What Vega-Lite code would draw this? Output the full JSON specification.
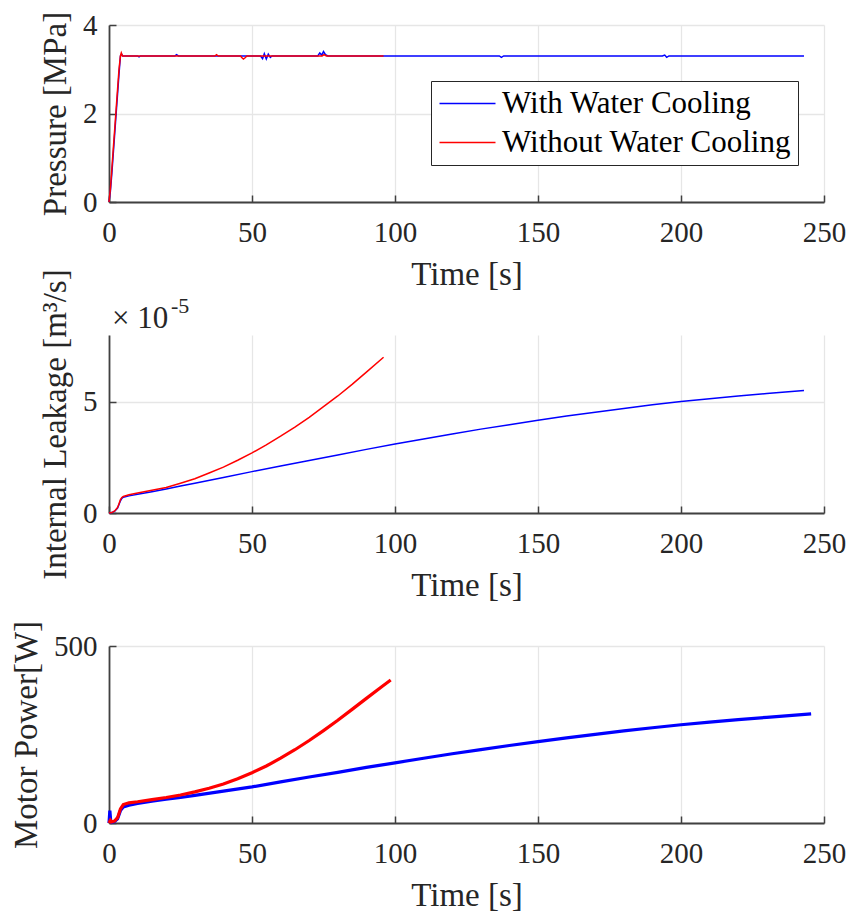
{
  "$schema": "https://vega.github.io/schema/vega-lite/v6.json",
  "background": "white",
  "padding": {"left": 10, "top": 11, "right": 0, "bottom": 0},
  "bounds": "flush",
  "spacing": 133,
  "resolve": {"scale": {"color": "independent"}},
  "config": {
    "view": {"stroke": null},
    "font": "Liberation Serif",
    "axis": {
      "labelFont": "Liberation Serif", "labelFontSize": 29, "labelColor": "#262626", "labelFlush": false,
      "titleFont": "Liberation Serif", "titleFontSize": 33, "titleFontWeight": "normal", "titleColor": "#262626",
      "domainColor": "#404040", "domainWidth": 1.8,
      "tickColor": "#404040", "tickWidth": 1.5, "tickSize": -7,
      "gridColor": "#e6e6e6", "gridWidth": 1.3
    },
    "axisX": {"labelPadding": 23, "titlePadding": 11},
    "axisY": {"labelPadding": 19, "titlePadding": 10}
  },
  "datasets": {
    "pressure": [
      {"time": 0, "value": 0, "series": "With Water Cooling"},
      {"time": 0.5, "value": 0.25, "series": "With Water Cooling"},
      {"time": 1, "value": 0.65, "series": "With Water Cooling"},
      {"time": 1.5, "value": 1.1, "series": "With Water Cooling"},
      {"time": 2, "value": 1.55, "series": "With Water Cooling"},
      {"time": 2.5, "value": 2.0, "series": "With Water Cooling"},
      {"time": 3, "value": 2.45, "series": "With Water Cooling"},
      {"time": 3.5, "value": 2.9, "series": "With Water Cooling"},
      {"time": 4, "value": 3.3, "series": "With Water Cooling"},
      {"time": 4.4, "value": 3.34, "series": "With Water Cooling"},
      {"time": 4.8, "value": 3.3, "series": "With Water Cooling"},
      {"time": 10, "value": 3.3, "series": "With Water Cooling"},
      {"time": 10.5, "value": 3.28, "series": "With Water Cooling"},
      {"time": 11, "value": 3.3, "series": "With Water Cooling"},
      {"time": 23, "value": 3.3, "series": "With Water Cooling"},
      {"time": 23.6, "value": 3.33, "series": "With Water Cooling"},
      {"time": 24.3, "value": 3.3, "series": "With Water Cooling"},
      {"time": 53, "value": 3.3, "series": "With Water Cooling"},
      {"time": 53.7, "value": 3.24, "series": "With Water Cooling"},
      {"time": 54.3, "value": 3.35, "series": "With Water Cooling"},
      {"time": 55, "value": 3.23, "series": "With Water Cooling"},
      {"time": 55.7, "value": 3.34, "series": "With Water Cooling"},
      {"time": 56.4, "value": 3.27, "series": "With Water Cooling"},
      {"time": 57, "value": 3.3, "series": "With Water Cooling"},
      {"time": 73, "value": 3.3, "series": "With Water Cooling"},
      {"time": 73.7, "value": 3.37, "series": "With Water Cooling"},
      {"time": 74.4, "value": 3.32, "series": "With Water Cooling"},
      {"time": 75, "value": 3.4, "series": "With Water Cooling"},
      {"time": 75.7, "value": 3.33, "series": "With Water Cooling"},
      {"time": 76.5, "value": 3.3, "series": "With Water Cooling"},
      {"time": 136.5, "value": 3.3, "series": "With Water Cooling"},
      {"time": 137.2, "value": 3.27, "series": "With Water Cooling"},
      {"time": 138, "value": 3.3, "series": "With Water Cooling"},
      {"time": 193.5, "value": 3.3, "series": "With Water Cooling"},
      {"time": 194.3, "value": 3.32, "series": "With Water Cooling"},
      {"time": 195, "value": 3.27, "series": "With Water Cooling"},
      {"time": 195.8, "value": 3.3, "series": "With Water Cooling"},
      {"time": 243, "value": 3.3, "series": "With Water Cooling"},
      {"time": 0, "value": 0, "series": "Without Water Cooling"},
      {"time": 0.5, "value": 0.3, "series": "Without Water Cooling"},
      {"time": 1, "value": 0.75, "series": "Without Water Cooling"},
      {"time": 1.5, "value": 1.2, "series": "Without Water Cooling"},
      {"time": 2, "value": 1.65, "series": "Without Water Cooling"},
      {"time": 2.5, "value": 2.1, "series": "Without Water Cooling"},
      {"time": 3, "value": 2.55, "series": "Without Water Cooling"},
      {"time": 3.5, "value": 3.0, "series": "Without Water Cooling"},
      {"time": 4, "value": 3.3, "series": "Without Water Cooling"},
      {"time": 4.3, "value": 3.37, "series": "Without Water Cooling"},
      {"time": 4.7, "value": 3.3, "series": "Without Water Cooling"},
      {"time": 37, "value": 3.3, "series": "Without Water Cooling"},
      {"time": 37.6, "value": 3.33, "series": "Without Water Cooling"},
      {"time": 38.2, "value": 3.3, "series": "Without Water Cooling"},
      {"time": 46, "value": 3.3, "series": "Without Water Cooling"},
      {"time": 46.5, "value": 3.26, "series": "Without Water Cooling"},
      {"time": 47, "value": 3.23, "series": "Without Water Cooling"},
      {"time": 47.6, "value": 3.26, "series": "Without Water Cooling"},
      {"time": 48.2, "value": 3.3, "series": "Without Water Cooling"},
      {"time": 74.5, "value": 3.3, "series": "Without Water Cooling"},
      {"time": 75.2, "value": 3.33, "series": "Without Water Cooling"},
      {"time": 76, "value": 3.3, "series": "Without Water Cooling"},
      {"time": 96, "value": 3.3, "series": "Without Water Cooling"}
    ],
    "leakage": [
      {"time": 0, "value": 0, "series": "With Water Cooling"},
      {"time": 1, "value": 0.02e-5, "series": "With Water Cooling"},
      {"time": 2, "value": 0.08e-5, "series": "With Water Cooling"},
      {"time": 3, "value": 0.22e-5, "series": "With Water Cooling"},
      {"time": 3.5, "value": 0.38e-5, "series": "With Water Cooling"},
      {"time": 4, "value": 0.55e-5, "series": "With Water Cooling"},
      {"time": 4.5, "value": 0.66e-5, "series": "With Water Cooling"},
      {"time": 5, "value": 0.71e-5, "series": "With Water Cooling"},
      {"time": 7, "value": 0.77e-5, "series": "With Water Cooling"},
      {"time": 10, "value": 0.84e-5, "series": "With Water Cooling"},
      {"time": 15, "value": 0.96e-5, "series": "With Water Cooling"},
      {"time": 20, "value": 1.08e-5, "series": "With Water Cooling"},
      {"time": 25, "value": 1.21e-5, "series": "With Water Cooling"},
      {"time": 30, "value": 1.34e-5, "series": "With Water Cooling"},
      {"time": 40, "value": 1.6e-5, "series": "With Water Cooling"},
      {"time": 50, "value": 1.86e-5, "series": "With Water Cooling"},
      {"time": 60, "value": 2.11e-5, "series": "With Water Cooling"},
      {"time": 70, "value": 2.36e-5, "series": "With Water Cooling"},
      {"time": 80, "value": 2.61e-5, "series": "With Water Cooling"},
      {"time": 90, "value": 2.86e-5, "series": "With Water Cooling"},
      {"time": 100, "value": 3.1e-5, "series": "With Water Cooling"},
      {"time": 110, "value": 3.33e-5, "series": "With Water Cooling"},
      {"time": 120, "value": 3.55e-5, "series": "With Water Cooling"},
      {"time": 130, "value": 3.77e-5, "series": "With Water Cooling"},
      {"time": 140, "value": 3.97e-5, "series": "With Water Cooling"},
      {"time": 150, "value": 4.17e-5, "series": "With Water Cooling"},
      {"time": 160, "value": 4.36e-5, "series": "With Water Cooling"},
      {"time": 170, "value": 4.53e-5, "series": "With Water Cooling"},
      {"time": 180, "value": 4.7e-5, "series": "With Water Cooling"},
      {"time": 190, "value": 4.86e-5, "series": "With Water Cooling"},
      {"time": 200, "value": 5.01e-5, "series": "With Water Cooling"},
      {"time": 210, "value": 5.14e-5, "series": "With Water Cooling"},
      {"time": 220, "value": 5.26e-5, "series": "With Water Cooling"},
      {"time": 230, "value": 5.37e-5, "series": "With Water Cooling"},
      {"time": 243, "value": 5.51e-5, "series": "With Water Cooling"},
      {"time": 0, "value": 0, "series": "Without Water Cooling"},
      {"time": 1, "value": 0.02e-5, "series": "Without Water Cooling"},
      {"time": 2, "value": 0.09e-5, "series": "Without Water Cooling"},
      {"time": 3, "value": 0.25e-5, "series": "Without Water Cooling"},
      {"time": 3.5, "value": 0.42e-5, "series": "Without Water Cooling"},
      {"time": 4, "value": 0.6e-5, "series": "Without Water Cooling"},
      {"time": 4.5, "value": 0.7e-5, "series": "Without Water Cooling"},
      {"time": 5, "value": 0.74e-5, "series": "Without Water Cooling"},
      {"time": 7, "value": 0.82e-5, "series": "Without Water Cooling"},
      {"time": 10, "value": 0.9e-5, "series": "Without Water Cooling"},
      {"time": 15, "value": 1.02e-5, "series": "Without Water Cooling"},
      {"time": 20, "value": 1.15e-5, "series": "Without Water Cooling"},
      {"time": 25, "value": 1.34e-5, "series": "Without Water Cooling"},
      {"time": 30, "value": 1.54e-5, "series": "Without Water Cooling"},
      {"time": 35, "value": 1.8e-5, "series": "Without Water Cooling"},
      {"time": 40, "value": 2.06e-5, "series": "Without Water Cooling"},
      {"time": 45, "value": 2.37e-5, "series": "Without Water Cooling"},
      {"time": 50, "value": 2.7e-5, "series": "Without Water Cooling"},
      {"time": 55, "value": 3.06e-5, "series": "Without Water Cooling"},
      {"time": 60, "value": 3.45e-5, "series": "Without Water Cooling"},
      {"time": 65, "value": 3.86e-5, "series": "Without Water Cooling"},
      {"time": 70, "value": 4.3e-5, "series": "Without Water Cooling"},
      {"time": 75, "value": 4.78e-5, "series": "Without Water Cooling"},
      {"time": 80, "value": 5.26e-5, "series": "Without Water Cooling"},
      {"time": 85, "value": 5.78e-5, "series": "Without Water Cooling"},
      {"time": 90, "value": 6.33e-5, "series": "Without Water Cooling"},
      {"time": 96, "value": 7.0e-5, "series": "Without Water Cooling"}
    ],
    "power": [
      {"time": 0, "value": 0, "series": "With Water Cooling"},
      {"time": 0.3, "value": 35, "series": "With Water Cooling"},
      {"time": 0.6, "value": 5, "series": "With Water Cooling"},
      {"time": 1, "value": 2, "series": "With Water Cooling"},
      {"time": 2, "value": 5, "series": "With Water Cooling"},
      {"time": 3, "value": 12, "series": "With Water Cooling"},
      {"time": 4, "value": 35, "series": "With Water Cooling"},
      {"time": 5, "value": 45, "series": "With Water Cooling"},
      {"time": 7, "value": 50, "series": "With Water Cooling"},
      {"time": 10, "value": 55, "series": "With Water Cooling"},
      {"time": 15, "value": 62, "series": "With Water Cooling"},
      {"time": 20, "value": 67, "series": "With Water Cooling"},
      {"time": 25, "value": 72, "series": "With Water Cooling"},
      {"time": 30, "value": 78, "series": "With Water Cooling"},
      {"time": 40, "value": 90, "series": "With Water Cooling"},
      {"time": 50, "value": 102, "series": "With Water Cooling"},
      {"time": 60, "value": 116, "series": "With Water Cooling"},
      {"time": 70, "value": 130, "series": "With Water Cooling"},
      {"time": 80, "value": 143, "series": "With Water Cooling"},
      {"time": 90, "value": 157, "series": "With Water Cooling"},
      {"time": 100, "value": 170, "series": "With Water Cooling"},
      {"time": 110, "value": 183, "series": "With Water Cooling"},
      {"time": 120, "value": 195.5, "series": "With Water Cooling"},
      {"time": 130, "value": 207.5, "series": "With Water Cooling"},
      {"time": 140, "value": 219, "series": "With Water Cooling"},
      {"time": 150, "value": 230, "series": "With Water Cooling"},
      {"time": 160, "value": 240.5, "series": "With Water Cooling"},
      {"time": 170, "value": 250.5, "series": "With Water Cooling"},
      {"time": 180, "value": 260, "series": "With Water Cooling"},
      {"time": 190, "value": 269, "series": "With Water Cooling"},
      {"time": 200, "value": 277.5, "series": "With Water Cooling"},
      {"time": 210, "value": 285, "series": "With Water Cooling"},
      {"time": 220, "value": 292, "series": "With Water Cooling"},
      {"time": 230, "value": 298.5, "series": "With Water Cooling"},
      {"time": 245.5, "value": 308, "series": "With Water Cooling"},
      {"time": 0, "value": 0, "series": "Without Water Cooling"},
      {"time": 0.5, "value": 8, "series": "Without Water Cooling"},
      {"time": 1, "value": 3, "series": "Without Water Cooling"},
      {"time": 2, "value": 6, "series": "Without Water Cooling"},
      {"time": 3, "value": 15, "series": "Without Water Cooling"},
      {"time": 4, "value": 40, "series": "Without Water Cooling"},
      {"time": 5, "value": 52, "series": "Without Water Cooling"},
      {"time": 7, "value": 57, "series": "Without Water Cooling"},
      {"time": 10, "value": 60, "series": "Without Water Cooling"},
      {"time": 15, "value": 66, "series": "Without Water Cooling"},
      {"time": 20, "value": 72, "series": "Without Water Cooling"},
      {"time": 25, "value": 79, "series": "Without Water Cooling"},
      {"time": 30, "value": 88, "series": "Without Water Cooling"},
      {"time": 35, "value": 98, "series": "Without Water Cooling"},
      {"time": 40, "value": 110, "series": "Without Water Cooling"},
      {"time": 45, "value": 125, "series": "Without Water Cooling"},
      {"time": 50, "value": 142, "series": "Without Water Cooling"},
      {"time": 55, "value": 161, "series": "Without Water Cooling"},
      {"time": 60, "value": 183, "series": "Without Water Cooling"},
      {"time": 65, "value": 207, "series": "Without Water Cooling"},
      {"time": 70, "value": 233, "series": "Without Water Cooling"},
      {"time": 75, "value": 261, "series": "Without Water Cooling"},
      {"time": 80, "value": 290, "series": "Without Water Cooling"},
      {"time": 85, "value": 321, "series": "Without Water Cooling"},
      {"time": 90, "value": 352, "series": "Without Water Cooling"},
      {"time": 95, "value": 383, "series": "Without Water Cooling"},
      {"time": 98.5, "value": 404, "series": "Without Water Cooling"}
    ]
  },
  "vconcat": [
    {
      "width": 715, "height": 177,
      "data": {"name": "pressure"},
      "mark": {"type": "line", "strokeWidth": 1.5},
      "encoding": {
        "x": {"field": "time", "type": "quantitative", "scale": {"domain": [0, 250], "nice": false}, "axis": {"values": [0, 50, 100, 150, 200, 250], "title": "Time [s]"}},
        "y": {"field": "value", "type": "quantitative", "scale": {"domain": [0, 4], "nice": false}, "axis": {"values": [0, 2, 4], "title": "Pressure [MPa]"}},
        "color": {
          "field": "series", "type": "nominal",
          "scale": {"domain": ["With Water Cooling", "Without Water Cooling"], "range": ["#0000ff", "#ff0000"]},
          "legend": {
            "orient": "none", "legendX": 322, "legendY": 56, "title": null,
            "symbolType": "M-1,0H3", "symbolSize": 784, "symbolStrokeWidth": 1.5,
            "symbolOffset": 0,
            "labelFont": "Liberation Serif", "labelFontSize": 31, "labelColor": "#000000", "labelOffset": 33, "labelLimit": 500,
            "strokeColor": "#262626", "fillColor": "#ffffff", "padding": 7, "rowPadding": 7, "cornerRadius": 0
          }
        }
      }
    },
    {
      "width": 715, "height": 178,
      "layer": [
        {
          "data": {"name": "leakage"},
          "mark": {"type": "line", "strokeWidth": 1.5},
          "encoding": {
            "x": {"field": "time", "type": "quantitative", "scale": {"domain": [0, 250], "nice": false}, "axis": {"values": [0, 50, 100, 150, 200, 250], "title": "Time [s]"}},
            "y": {"field": "value", "type": "quantitative", "scale": {"domain": [0, 0.00008], "nice": false}, "axis": {"values": [0, 0.00005], "title": "Internal Leakage [m³/s]", "labelExpr": "format(round(datum.value * 100000), 'd')"}},
            "color": {"field": "series", "type": "nominal", "scale": {"domain": ["With Water Cooling", "Without Water Cooling"], "range": ["#0000ff", "#ff0000"]}, "legend": null}
          }
        },
        {
          "data": {"values": [{"label": "× 10"}]},
          "mark": {"type": "text", "align": "left", "baseline": "alphabetic", "dx": 3, "dy": -7, "font": "Liberation Serif", "fontSize": 31, "color": "#262626"},
          "encoding": {
            "x": {"datum": 0, "type": "quantitative"},
            "y": {"datum": 0.00008, "type": "quantitative"},
            "text": {"field": "label"}
          }
        },
        {
          "data": {"values": [{"label": "-5"}]},
          "mark": {"type": "text", "align": "left", "baseline": "alphabetic", "dx": 62, "dy": -22, "font": "Liberation Serif", "fontSize": 22, "color": "#262626"},
          "encoding": {
            "x": {"datum": 0, "type": "quantitative"},
            "y": {"datum": 0.00008, "type": "quantitative"},
            "text": {"field": "label"}
          }
        }
      ]
    },
    {
      "width": 715, "height": 177,
      "data": {"name": "power"},
      "mark": {"type": "line", "strokeWidth": 3.2},
      "encoding": {
        "x": {"field": "time", "type": "quantitative", "scale": {"domain": [0, 250], "nice": false}, "axis": {"values": [0, 50, 100, 150, 200, 250], "title": "Time [s]"}},
        "y": {"field": "value", "type": "quantitative", "scale": {"domain": [0, 500], "nice": false}, "axis": {"values": [0, 500], "title": "Motor Power[W]"}},
        "color": {"field": "series", "type": "nominal", "scale": {"domain": ["With Water Cooling", "Without Water Cooling"], "range": ["#0000ff", "#ff0000"]}, "legend": null}
      }
    }
  ]
}
